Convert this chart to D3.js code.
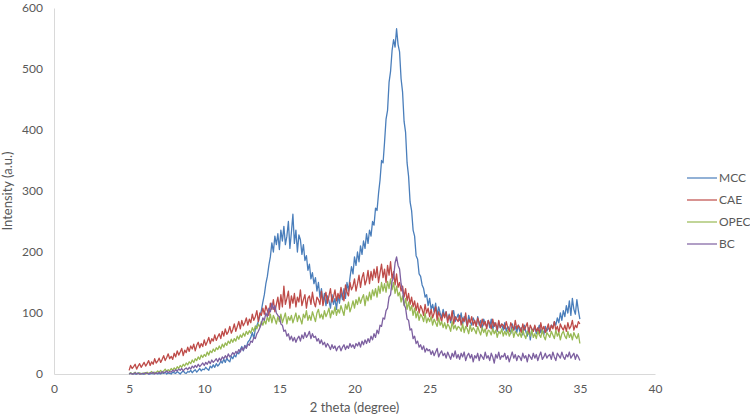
<!DOCTYPE html>
<html>
<head>
<meta charset="utf-8">
<script src="https://cdn.jsdelivr.net/npm/d3@7"></script>
<style>
  body { margin: 0; background: #fff; }
  text { font-family: Lato, "Open Sans", sans-serif; fill: #595959; }
</style>
</head>
<body>
<div id="chart"></div>
<script>
// 2 theta sampling: 5.0 .. 35.0 every 0.1 degree
var thetaStart = 5, thetaStep = 0.1;

var seriesNames = ["MCC", "CAE", "OPEC", "BC"];
var seriesColors = ["#4a7ebb", "#be4b48", "#98b954", "#7d60a0"];

var xTicks = [0, 5, 10, 15, 20, 25, 30, 35, 40];
var yTicks = [0, 100, 200, 300, 400, 500, 600];

var mcc = [
  0,2,0,1,0,0,2,0,1,0,
  0,1,2,0,0,1,0,2,1,0,
  1,0,2,1,3,0,2,1,0,3,
  2,1,4,2,0,3,5,2,1,4,
  3,6,2,5,7,3,6,9,5,8,
  7,11,8,6,13,10,15,11,17,13,
  16,21,18,24,19,26,22,20,29,25,
  31,28,36,33,40,45,38,47,43,52,
  55,60,68,58,74,79,86,95,104,118,
  130,148,160,178,192,215,200,226,212,230,
  204,236,218,242,212,226,250,206,232,262,
  214,236,200,228,220,196,212,186,194,170,
  180,156,166,148,158,136,150,126,140,118,
  132,112,128,120,108,130,114,124,106,128,
  116,134,122,140,124,150,136,158,176,164,
  192,178,200,184,210,196,218,206,230,214,
  236,226,250,244,272,268,296,318,350,346,
  380,418,432,478,496,530,548,536,566,540,
  528,484,462,414,396,346,324,282,268,236,
  226,194,188,164,160,146,140,126,130,112,
  124,106,114,102,116,96,110,100,92,106,
  94,102,88,98,84,96,104,86,92,98,
  88,100,82,94,90,78,96,86,80,92,
  86,78,94,80,88,74,90,82,78,88,
  76,90,72,84,80,70,86,76,82,72,
  84,70,78,74,66,82,72,78,68,80,
  70,76,64,80,70,62,76,56,74,70,
  78,66,72,80,68,74,64,78,70,76,
  72,80,76,86,80,92,84,100,88,104,
  94,112,100,120,96,124,106,98,122,104,
  90
];

var cae = [
  6,14,9,12,16,8,13,17,11,15,
  19,13,17,22,14,20,16,25,18,21,
  26,19,24,30,22,27,33,25,29,24,
  34,28,38,31,36,42,30,39,35,44,
  37,46,41,49,38,47,52,43,50,45,
  56,47,53,60,50,58,54,64,55,61,
  66,58,70,62,74,65,69,78,67,73,
  82,70,78,86,74,88,79,84,92,80,
  90,84,98,88,94,104,86,100,96,108,
  98,112,104,96,116,106,122,102,114,126,
  106,130,110,144,114,124,136,108,128,116,
  132,110,126,118,138,112,122,130,108,124,
  128,114,134,118,110,126,122,114,136,112,
  124,134,116,128,140,118,126,138,120,132,
  124,142,130,120,146,134,128,150,138,144,
  156,136,148,162,142,158,166,146,154,170,
  148,168,154,172,158,176,150,166,180,158,
  172,150,178,162,184,156,168,146,164,142,
  150,136,144,126,140,120,132,114,126,110,
  120,104,116,100,112,106,96,114,100,108,
  94,106,92,100,110,88,102,94,86,100,
  92,102,84,96,88,104,82,94,90,86,
  96,80,92,86,100,78,90,84,94,80,
  88,78,92,84,76,90,80,86,74,88,
  82,74,90,78,84,72,88,76,82,80,
  74,86,76,70,84,78,72,88,74,80,
  76,68,82,72,78,84,66,80,74,70,
  80,70,76,66,84,72,78,68,74,82,
  70,80,74,86,72,78,68,82,76,72,
  80,70,84,74,78,88,72,80,76,86,
  82
];

var opec = [
  0,2,0,1,3,0,1,2,0,1,
  2,0,3,1,2,4,1,3,2,5,
  3,6,2,5,8,4,7,5,9,6,
  10,7,12,9,14,11,16,13,18,15,
  20,17,23,19,25,22,28,24,31,27,
  32,29,36,31,38,35,41,37,43,40,
  46,41,49,44,51,47,54,50,57,52,
  58,54,62,57,64,60,67,62,70,65,
  71,67,76,70,79,74,82,77,86,80,
  88,82,94,86,98,84,96,90,82,94,
  86,98,84,92,100,82,94,88,96,84,
  92,100,86,96,90,82,98,92,104,88,
  96,88,102,94,86,100,106,92,98,90,
  104,94,100,108,92,104,98,110,96,106,
  100,112,104,96,114,106,118,102,110,120,
  108,122,114,126,116,124,130,112,128,120,
  134,122,138,128,140,126,144,132,150,136,
  148,134,152,140,156,138,150,132,144,128,
  134,118,128,112,124,106,118,104,112,96,
  108,92,102,88,98,94,86,100,84,92,
  86,94,80,90,84,78,92,80,86,76,
  84,74,82,78,70,86,74,80,72,78,
  76,70,82,68,78,74,66,80,70,76,
  72,66,78,70,64,76,68,74,62,72,
  70,64,74,66,72,60,70,66,74,62,
  70,64,72,62,68,74,60,70,66,62,
  68,60,72,64,58,70,66,62,72,60,
  66,58,70,64,60,72,62,56,68,64,
  60,70,64,58,72,62,68,56,66,70,
  62,58,70,60,66,56,68,62,58,66,
  50
];

var bc = [
  0,1,0,0,2,0,1,0,0,1,
  0,2,1,0,2,1,3,0,2,1,
  3,1,4,2,3,5,2,4,3,6,
  4,7,5,8,6,9,5,8,10,7,
  11,8,13,10,14,11,16,12,15,18,
  14,19,16,21,17,23,19,22,25,20,
  26,22,28,25,30,26,33,28,31,35,
  32,37,34,40,36,43,39,46,42,49,
  47,54,52,60,58,66,70,76,82,92,
  88,100,94,108,102,116,106,112,100,96,
  94,82,80,70,72,62,66,56,62,54,
  60,52,58,62,54,64,58,68,60,64,
  70,58,66,60,62,54,58,50,56,48,
  52,44,50,46,40,48,42,46,38,44,
  46,38,44,48,40,46,42,50,44,48,
  42,50,46,52,44,54,48,56,50,58,
  52,62,56,66,60,72,66,80,78,92,
  90,104,108,126,130,152,158,182,192,178,
  172,148,138,114,108,90,88,72,74,58,
  62,50,54,44,48,40,46,36,42,38,
  40,32,38,30,36,42,28,34,38,30,
  34,26,36,30,24,34,28,38,26,32,
  24,34,28,36,22,30,34,26,32,20,
  30,26,34,22,32,28,24,36,26,30,
  22,34,28,18,32,26,36,24,30,28,
  34,24,30,20,28,36,26,32,22,30,
  28,22,34,26,30,20,32,28,24,34,
  26,32,22,30,36,24,28,34,26,30,
  32,24,36,28,22,34,30,26,36,28,
  24,32,28,36,26,30,34,24,32,28,
  22
];

var seriesValues = [mcc, cae, opec, bc];

var W = 750, H = 415;
var margin = {top: 8, right: 95, bottom: 41, left: 54};

var svg = d3.select("#chart").append("svg")
  .attr("width", W).attr("height", H);

var x = d3.scaleLinear().domain([0, 40]).range([margin.left, 655]);
var y = d3.scaleLinear().domain([0, 600]).range([H - margin.bottom, margin.top]);

// axes (Excel style: light gray lines, no ticks)
var xAxis = svg.append("g")
  .attr("transform", "translate(0," + y(0) + ")")
  .call(d3.axisBottom(x).tickValues(xTicks).tickSize(0).tickPadding(10));
var yAxis = svg.append("g")
  .attr("transform", "translate(" + x(0) + ",0)")
  .call(d3.axisLeft(y).tickValues(yTicks).tickSize(0).tickPadding(11));
[xAxis, yAxis].forEach(function(g) {
  g.select(".domain").attr("stroke", "#d9d9d9").attr("stroke-width", 1);
  g.selectAll("text").style("font-size", "12px").attr("fill", "#595959")
    .style("font-family", "Lato, 'Open Sans', sans-serif");
});

// lines
var line = d3.line()
  .x(function(d, i) { return x(thetaStart + i * thetaStep); })
  .y(function(d) { return y(d); });

seriesValues.forEach(function(vals, k) {
  svg.append("path")
    .datum(vals)
    .attr("fill", "none")
    .attr("stroke", seriesColors[k])
    .attr("stroke-width", 1.3)
    .attr("stroke-linejoin", "round")
    .attr("d", line);
});

// axis titles
svg.append("text")
  .attr("x", (x(0) + x(40)) / 2).attr("y", 412)
  .attr("text-anchor", "middle").style("font-size", "13px")
  .text("2 theta (degree)");
svg.append("text")
  .attr("transform", "translate(12," + (y(0) + y(600)) / 2 + ") rotate(-90)")
  .attr("text-anchor", "middle").style("font-size", "13px")
  .text("Intensity (a.u.)");

// legend
var legend = svg.append("g");
seriesNames.forEach(function(name, k) {
  var ly = 178 + k * 22;
  legend.append("line")
    .attr("x1", 687).attr("x2", 717).attr("y1", ly).attr("y2", ly)
    .attr("stroke", seriesColors[k]).attr("stroke-width", 1.2);
  legend.append("text")
    .attr("x", 719).attr("y", ly + 4)
    .style("font-size", "12px")
    .text(name);
});
</script>
</body>
</html>
